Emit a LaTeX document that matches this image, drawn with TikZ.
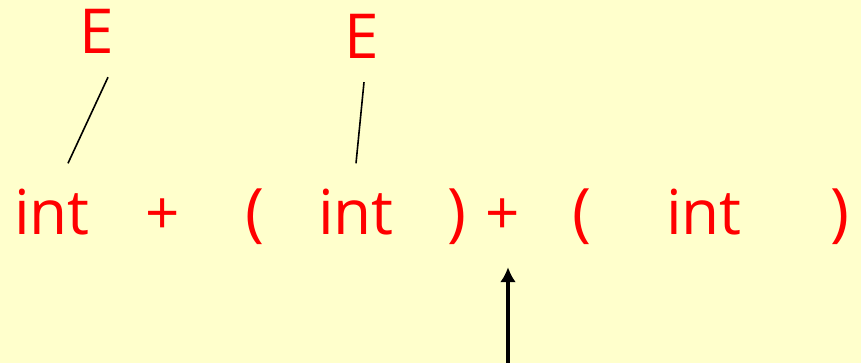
\documentclass[tikz,border=0pt]{standalone}
\usepackage{fontspec}
\setmainfont{Open Sans}
\usetikzlibrary{arrows.meta}
\definecolor{paper}{RGB}{255,255,204}
\begin{document}
\begin{tikzpicture}[x=1pt,y=-1pt,
  sym/.style={red,inner sep=0pt,anchor=base,font=\fontsize{62}{70}\selectfont},
  br/.style={red,inner sep=0pt,anchor=base,font=\fontsize{64}{70}\selectfont},
  pl/.style={red,inner sep=0pt,anchor=base,font=\fontsize{60}{66}\selectfont},
  edge/.style={line width=1.6pt}]
\fill[paper](0,0) rectangle (861,363);
\useasboundingbox (0,0) rectangle (861,363);
\node[sym] (E1) at (97,54) {E};
\node[sym] (E2) at (362,59) {E};
\node[sym] (int1) at (52,235) {int};
\node[pl]  (plus1) at (163,235) {+};
\node[br]  (lp1) at (255,235) {(};
\node[sym] (int2) at (356,235) {int};
\node[br]  (rp1) at (457,235) {)};
\node[pl]  (plus2) at (503,235) {+};
\node[br]  (lp2) at (582,235) {(};
\node[sym] (int3) at (704,235) {int};
\node[br]  (rp2) at (840,235) {)};
\draw[edge] ([shift={(11,23)}]E1.south) -- ([shift={(16,-26)}]int1.north);
\draw[edge] ([shift={(2,23)}]E2.south) -- ([shift={(0,-26)}]int2.north);
\coordinate (ptr) at (508,363);
\draw[line width=3.5pt,-{Latex[length=15pt,width=16pt]}] (ptr) -- ([shift={(5,32)}]plus2.south);
\end{tikzpicture}
\end{document}
